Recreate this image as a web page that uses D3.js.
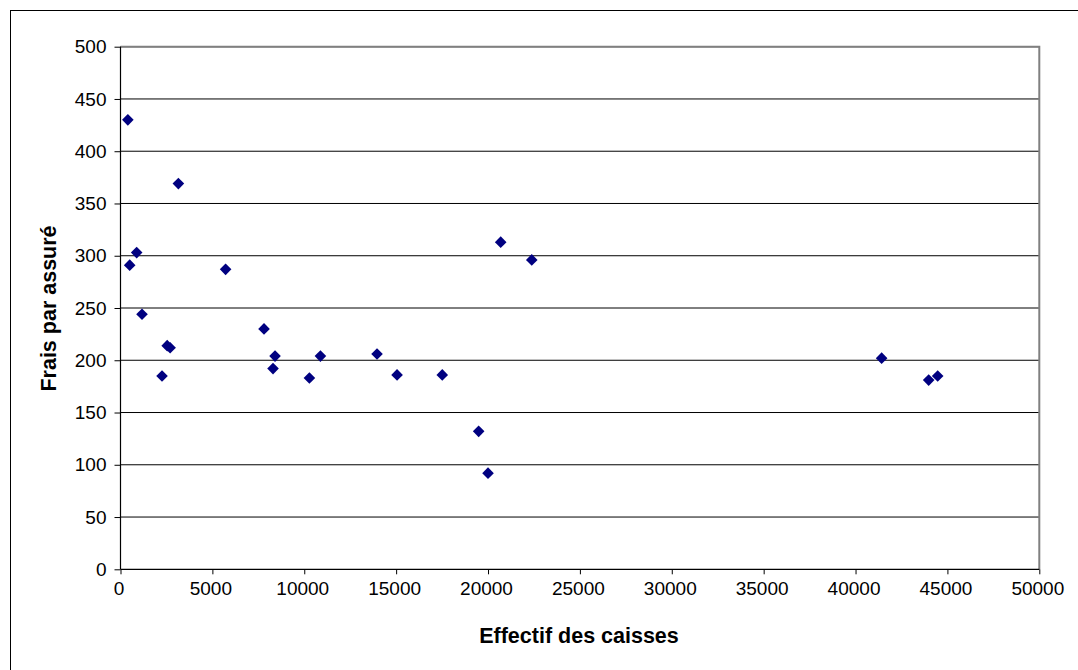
<!DOCTYPE html>
<html>
<head>
<meta charset="utf-8">
<script src="https://cdn.jsdelivr.net/npm/d3@7"></script>
<style>
  html, body { margin: 0; padding: 0; background: #fff; }
  svg { display: block; font-family: "Liberation Sans", Arial, sans-serif; }
</style>
</head>
<body>
<svg id="chart" width="1078" height="670"></svg>
<script>
// Effectif des caisses (x) vs frais par assuré (y)
const effectif = [400, 3150, 500, 880, 1170, 2540, 2700, 2260, 5720, 7810, 8410, 8300,
                  10280, 10880, 13960, 15050, 17510, 19490, 20000, 20690, 22380,
                  41420, 43980, 44470];
const frais    = [430, 369, 291, 303, 244, 214, 212, 185, 287, 230, 204, 192,
                  183, 204, 206, 186, 186, 132, 92, 313, 296,
                  202, 181, 185];
const xTicks = [0, 5000, 10000, 15000, 20000, 25000, 30000, 35000, 40000, 45000, 50000];
const yTicks = [0, 50, 100, 150, 200, 250, 300, 350, 400, 450, 500];
const xTitle = "Effectif des caisses";
const yTitle = "Frais par assuré";

const svg = d3.select("#chart");
const plotL = 120.5, plotR = 1039.3, plotT = 46.7, plotB = 569.3;

const x = d3.scaleLinear().domain([0, 50000]).range([plotL, plotR]);
const y = d3.scaleLinear().domain([0, 500]).range([plotB, plotT]);

// outer chart frame
svg.append("rect")
  .attr("x", 10.5).attr("y", 10.5)
  .attr("width", 1200).attr("height", 800)
  .attr("fill", "#fff").attr("stroke", "#000").attr("stroke-width", 1);

// horizontal gridlines
svg.append("g")
  .selectAll("line")
  .data(yTicks.filter(d => d > 0))
  .join("line")
  .attr("x1", plotL).attr("x2", plotR)
  .attr("y1", d => y(d)).attr("y2", d => y(d))
  .attr("stroke", "#000").attr("stroke-width", 1);

// plot area border (top & right)
svg.append("path")
  .attr("d", `M${plotL},${plotT}H${plotR}V${plotB}`)
  .attr("fill", "none").attr("stroke", "#808080").attr("stroke-width", 2);

// axes
const yAxis = d3.axisLeft(y).tickValues(yTicks).tickSize(6).tickPadding(8).tickFormat(d3.format("d"));
const xAxis = d3.axisBottom(x).tickValues(xTicks).tickSize(5).tickPadding(7).tickFormat(d3.format("d"));

const gy = svg.append("g").attr("transform", `translate(${plotL},0)`).call(yAxis);
const gx = svg.append("g").attr("transform", `translate(0,${plotB})`).call(xAxis);

[gx, gy].forEach(g => {
  g.select(".domain").attr("stroke", "#000").attr("stroke-width", 1.2);
  g.selectAll(".tick line").attr("stroke", "#000");
  g.selectAll(".tick text")
    .attr("fill", "#000")
    .style("font-size", "19px")
    .style("font-family", "'Liberation Sans', Arial, sans-serif");
});
gx.select(".domain").attr("d", `M${plotL},0H${plotR}`);
gy.select(".domain").attr("d", `M0,${plotB}V${plotT}`);
gx.selectAll(".tick text").attr("dx", -2);

// axis titles
svg.append("text")
  .attr("x", 579).attr("y", 643)
  .attr("text-anchor", "middle")
  .style("font-size", "21.5px").style("font-weight", "bold")
  .text(xTitle);

svg.append("text")
  .attr("transform", "translate(56,308.5) rotate(-90)")
  .attr("text-anchor", "middle")
  .style("font-size", "21.5px").style("font-weight", "bold")
  .text(yTitle);

// diamond markers
const pts = effectif.map((v, i) => ({ x: v, y: frais[i] }));
const r = 5.8;
svg.append("g")
  .selectAll("path")
  .data(pts)
  .join("path")
  .attr("transform", d => `translate(${x(d.x)},${y(d.y)})`)
  .attr("d", `M0,${-r}L${r},0L0,${r}L${-r},0Z`)
  .attr("fill", "#000080");
</script>
</body>
</html>
